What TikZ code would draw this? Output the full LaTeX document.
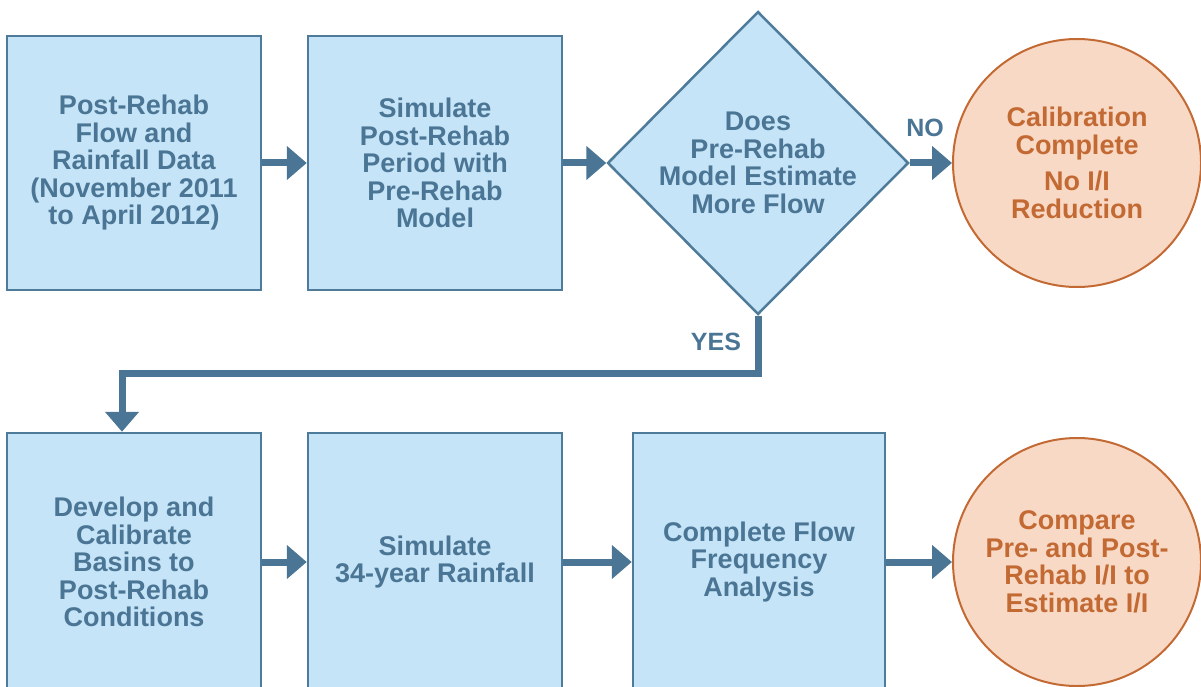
\documentclass[tikz,border=0pt]{standalone}
\usepackage{fontspec}
\setmainfont{Liberation Sans}
\usetikzlibrary{shapes.geometric, arrows.meta}
\definecolor{boxfill}{HTML}{C6E4F7}
\definecolor{boxline}{HTML}{4F7B9A}
\definecolor{flowblue}{HTML}{4A7594}
\definecolor{endfill}{HTML}{F8D9C5}
\definecolor{endline}{HTML}{C36A34}

\begin{document}
\begin{tikzpicture}[
    x=1pt, y=-1pt,
    txt/.style={font=\fontsize{27}{27.5}\selectfont\bfseries, align=center},
    stepbox/.style={txt, rectangle, draw=boxline, line width=2.5pt, fill=boxfill, text=flowblue,
      minimum width=254pt, minimum height=254pt, inner sep=0pt},
    lowbox/.style={stepbox, minimum height=258pt},
    decision/.style={txt, diamond, draw=boxline, line width=2.5pt, fill=boxfill, text=flowblue,
      minimum width=301pt, minimum height=303pt, inner sep=-6pt},
    endcircle/.style={txt, circle, draw=endline, line width=2pt, fill=endfill, text=endline,
      minimum size=248pt, inner sep=0pt},
    flow/.style={line width=7pt, draw=flowblue, -{Triangle[length=20pt, width=33pt]}},
    answer/.style={font=\fontsize{25}{25}\selectfont\bfseries, text=flowblue}
    ]
    \clip (0,0) rectangle (1201,687);
    % top row
    \node[stepbox] (data) at (134,163) {Post-Rehab\\Flow and\\Rainfall Data\\(November 2011\\to April 2012)};
    \node[stepbox] (simpost) at (435,163) {Simulate\\Post-Rehab\\Period with\\Pre-Rehab\\Model};
    \node[decision] (decide) at (758,163) {Does\\Pre-Rehab\\Model Estimate\\More Flow};
    \node[endcircle] (done) at (1077,163) {Calibration\\Complete\\[9pt]No I/I\\Reduction};
    \node[answer] (no) at (925,128) {NO};
    \node[answer] (yes) at (716,342) {YES};
    % bottom row
    \node[lowbox] (basins) at (134,562) {Develop and\\Calibrate\\Basins to\\Post-Rehab\\Conditions};
    \node[lowbox] (simrain) at (435,562) {Simulate\\34-year Rainfall};
    \node[lowbox, minimum width=252pt] (freq) at (759,562) {Complete Flow\\Frequency\\Analysis};
    \node[endcircle] (compare) at (1077,562) {Compare\\Pre- and Post-\\Rehab I/I to\\Estimate I/I};
    % connectors
    \draw[flow] (data.east) -- (simpost.west);
    \draw[flow] (simpost.east) -- (decide.west);
    \draw[flow] (decide.east) -- (done.west);
    \coordinate (drop) at (122,373);
    \draw[flow] (decide.south) |- (drop) -- (drop |- basins.north);
    \draw[flow] (basins.east) -- (simrain.west);
    \draw[flow] (simrain.east) -- (freq.west);
    \draw[flow] (freq.east) -- (compare.west);
\end{tikzpicture}
\end{document}
